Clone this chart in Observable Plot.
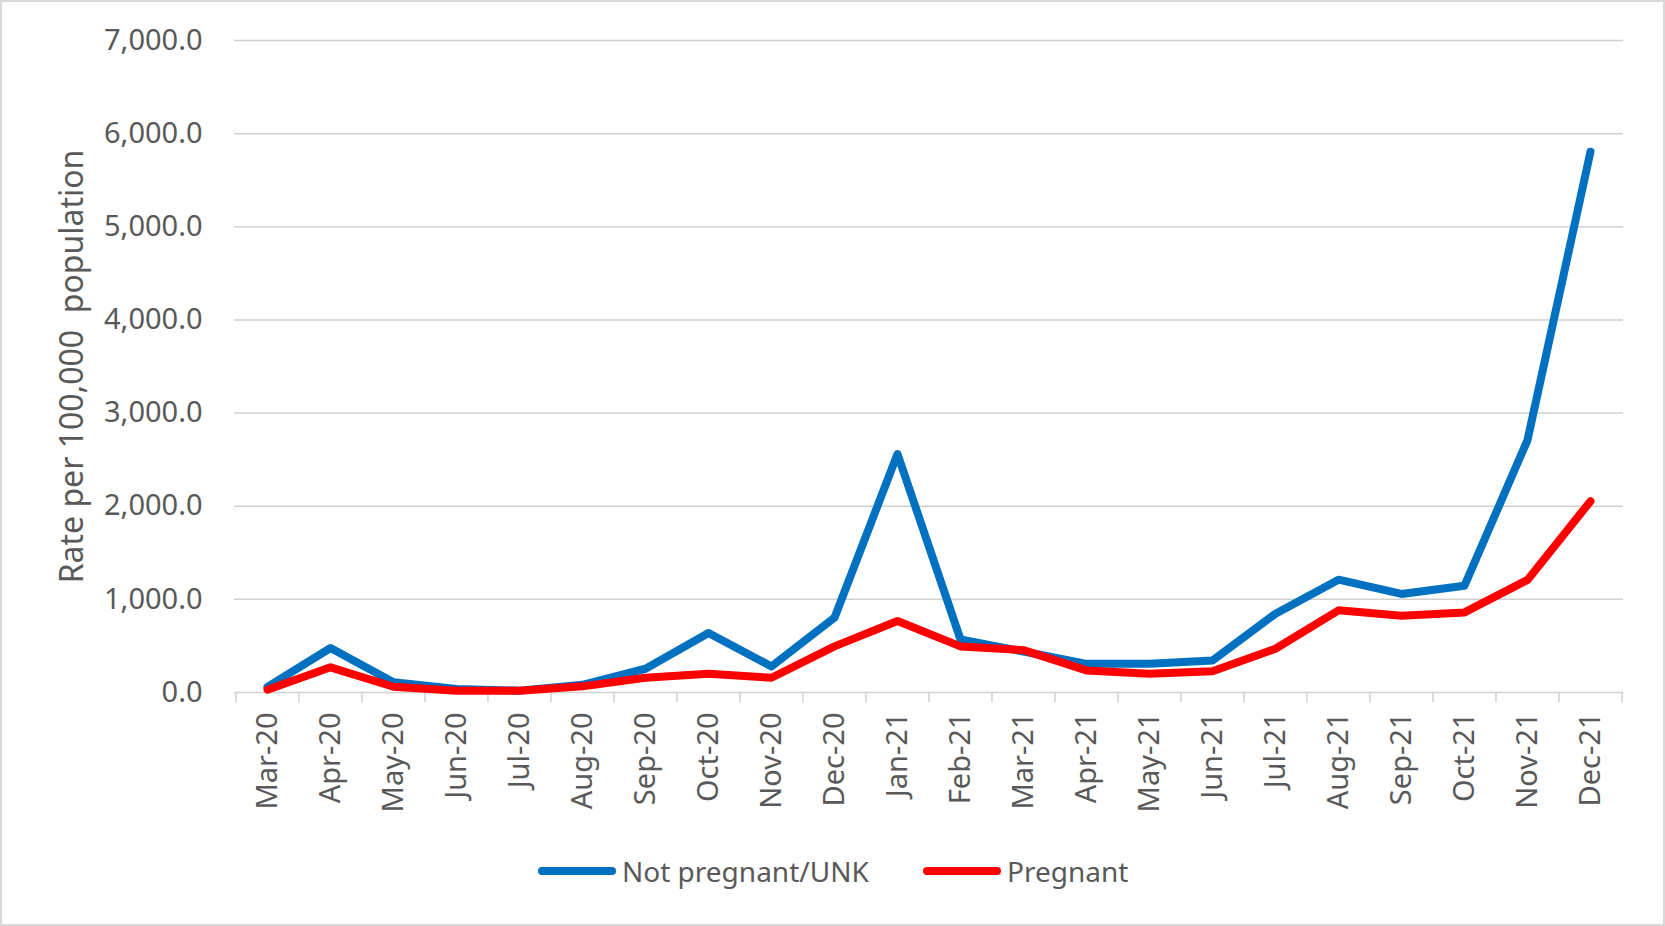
<!DOCTYPE html>
<html>
<head>
<meta charset="utf-8">
<script src="https://cdn.jsdelivr.net/npm/d3@7"></script>
<script src="https://cdn.jsdelivr.net/npm/@observablehq/plot@0.6"></script>
<style>
  html, body { margin: 0; padding: 0; background: #fff; }
  #wrap { position: relative; width: 1665px; height: 926px; background: #fff; overflow: hidden; font-family: "Noto Sans", sans-serif; color: #595959; }
  #border { position: absolute; left: 0; top: 0; right: 0; bottom: 0; border: 2px solid #d9d9d9; box-sizing: border-box; pointer-events: none; }
  #chart { position: absolute; left: 0; top: 0; }
  .legend-item { position: absolute; top: 851px; height: 40px; display: flex; align-items: center; font-size: 28px; color: #595959; white-space: nowrap; }
  .legend-item svg { margin-right: 6px; }
</style>
</head>
<body>
<div id="wrap">
  <div id="chart"></div>
  <div id="legend"></div>
  <div id="border"></div>
</div>
<script>
const months = ["Mar-20","Apr-20","May-20","Jun-20","Jul-20","Aug-20","Sep-20","Oct-20","Nov-20","Dec-20",
                "Jan-21","Feb-21","Mar-21","Apr-21","May-21","Jun-21","Jul-21","Aug-21","Sep-21","Oct-21","Nov-21","Dec-21"];
const notPregnant = [60, 478, 110, 37, 20, 83, 255, 638, 280, 803, 2560, 570, 440, 308, 308, 344, 846, 1211, 1058, 1147, 2710, 5806];
const pregnant    = [30, 270, 62, 20, 20, 66, 158, 201, 158, 495, 767, 495, 455, 237, 201, 229, 470, 882, 825, 860, 1209, 2054];
const yTicks = [0, 1000, 2000, 3000, 4000, 5000, 6000, 7000];
const seriesNames = ["Not pregnant/UNK", "Pregnant"];
const seriesColors = ["#0070C0", "#FF0000"];
const yTitle = "Rate per 100,000  population";

const W = 1665, H = 822, mL = 234, mR = 42, mT = 40, mB = 130;
const step = (W - mL - mR) / months.length;
const textColor = "#595959";
const gridColor = "#d0d0d0";

const chart = Plot.plot({
  width: W, height: H,
  marginLeft: mL, marginRight: mR, marginTop: mT, marginBottom: mB,
  style: { fontFamily: "Noto Sans, sans-serif", fontSize: "29px", color: textColor, background: "transparent", overflow: "visible" },
  x: { type: "point", domain: months, padding: 0.5, label: null },
  y: { domain: [0, 7000], ticks: yTicks, label: null },
  marks: [
    Plot.gridY(yTicks, { stroke: gridColor, strokeOpacity: 1, strokeWidth: 1.5 }),
    Plot.ruleX(months, { x: d => d, y1: 0, y2: -110, dx: -step / 2, stroke: gridColor, strokeWidth: 1.5 }),
    Plot.ruleX([months[months.length - 1]], { x: d => d, y1: 0, y2: -110, dx: step / 2, stroke: gridColor, strokeWidth: 1.5 }),
    Plot.axisY(yTicks, { tickSize: 0, tickPadding: 32, tickFormat: d3.format(",.1f"), fontSize: 29, fill: textColor, label: null }),
    Plot.axisX(months, { tickSize: 0, tickRotate: -90, tickPadding: 20, fontSize: 29, fill: textColor, label: null }),
    Plot.line(months, { x: months, y: notPregnant, stroke: seriesColors[0], strokeWidth: 8, strokeLinecap: "round", strokeLinejoin: "round" }),
    Plot.line(months, { x: months, y: pregnant, stroke: seriesColors[1], strokeWidth: 8, strokeLinecap: "round", strokeLinejoin: "round" }),
    Plot.text([yTitle], { frameAnchor: "left", textAnchor: "middle", rotate: -90, dx: -162, dy: 0, fontSize: 32, fill: textColor })
  ]
});
document.getElementById("chart").appendChild(chart);

const legend = document.getElementById("legend");
const legendLefts = [538, 923];
seriesNames.forEach((name, i) => {
  const item = document.createElement("div");
  item.className = "legend-item";
  item.style.left = legendLefts[i] + "px";
  item.innerHTML = `<svg width="78" height="14"><line x1="4" y1="7" x2="74" y2="7" stroke="${seriesColors[i]}" stroke-width="8" stroke-linecap="round"/></svg><span>${name}</span>`;
  legend.appendChild(item);
});
</script>
</body>
</html>
